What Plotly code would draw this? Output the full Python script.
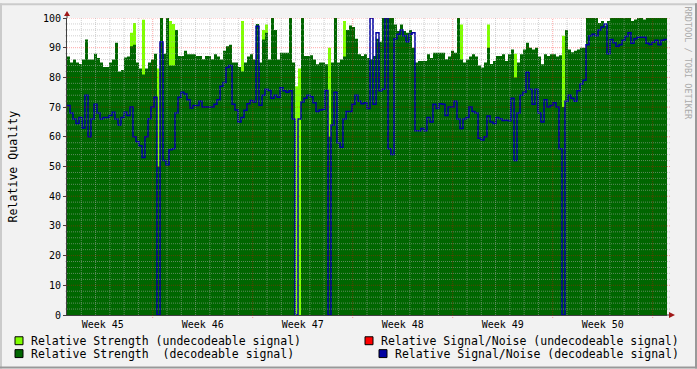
import plotly.graph_objects as go
import pandas as pd

# ---------------- data ----------------
start = pd.Timestamp("2007-11-06 00:00")          # Tuesday of ISO week 45
step = pd.Timedelta(hours=1008 / 200)              # 200 samples over 6 weeks

strength_decodeable = [
    87, 85, 86, 85, 84.5, 86, 92.8, 86, 86, 88,
    86.5, 85, 83.5, 83.5, 85, 86, 91.7, 82, 82.5, 86.7,
    87, 90.5, 91, 85, 83, 81, 83, 85, 86, 88,
    50, 100, 88,
    100, 84, 84, 96, 87.2, 87.2, 89, 87.8, 87.8, 87.8,
    87.2, 87.2, 86.1, 87.2, 87.2, 86.1, 87.8, 87, 86, 89,
    90.5, 91, 85, 85, 83.5, 82, 85, 87, 87.8, 86,
    98, 85, 92.8,
    95, 86, 100, 96, 86, 88.3, 88.3, 88.3, 100, 85,
    0, 0, 100, 87.2, 87.2, 87.5, 86, 84.4, 85, 85,
    84.4, 60, 85, 100, 85, 86, 87, 96, 97.5, 97,
    93, 87.8, 87.2,
    87.8, 86.5, 86.1, 87.2, 93, 92, 100, 100, 100, 100,
    97.8, 95.6, 97.8, 95.6, 95, 96, 90, 85, 85.5, 85.5,
    85.5, 87.8, 86.5, 88.3, 88.3, 88.3, 88.3, 86.1, 87, 89,
    88.3, 100, 86, 85,
    86, 87, 87.8, 87, 84, 83.3, 85, 90, 84.5, 85.5,
    87.2, 87.2, 87.8, 85.5, 87.8, 89.4, 80, 85, 87.8, 89.4,
    91.7, 90, 89.4, 90, 87, 84.4, 87.8, 87.2, 87.8, 87.8,
    87, 87.5, 70,
    96, 89.4, 88.5, 89, 89.4, 90, 90, 100, 100, 100,
    100, 98.3, 99, 97.5, 99, 100, 100, 100, 100, 100,
    100, 100, 99, 99.5, 100, 100, 99.5, 100, 100, 100,
    100, 100, 100, 100,
]

strength_undecodeable = [
    0, 0, 0, 0, 0, 0, 0, 0, 0, 0,
    0, 0, 0, 0, 0, 0, 0, 0, 0, 0,
    0, 95, 98.3, 0, 0, 99.4, 0, 0, 0, 0,
    83, 0, 0,
    0, 99, 98, 0, 0, 0, 0, 0, 0, 0,
    0, 0, 0, 0, 0, 0, 0, 0, 0, 0,
    0, 0, 0, 0, 0, 99, 0, 0, 0, 0,
    0, 0, 96,
    97.8, 0, 0, 0, 0, 0, 0, 0, 0, 0,
    77, 83, 0, 0, 0, 0, 0, 0, 0, 0,
    0, 90, 0, 0, 0, 0, 99, 0, 0, 0,
    0, 0, 0,
    0, 0, 0, 0, 0, 0, 0, 0, 0, 0,
    0, 0, 0, 0, 0, 0, 0, 0, 0, 0,
    0, 0, 0, 0, 0, 0, 0, 0, 0, 0,
    0, 98, 97.8, 0,
    0, 0, 0, 0, 0, 0, 0, 97.8, 0, 0,
    0, 0, 0, 0, 0, 0, 88, 0, 0, 0,
    0, 0, 0, 0, 0, 0, 0, 0, 0, 0,
    0, 0, 94,
    0, 0, 0, 0, 0, 0, 0, 0, 0, 0,
    0, 0, 0, 0, 0, 0, 0, 0, 0, 0,
    0, 0, 0, 0, 0, 0, 0, 0, 0, 0,
    0, 0, 0, 0,
]

snr_decodeable = [
    70.5, 68, 66, 64.5, 66.5, 63, 74, 60, 66, 71,
    68, 66, 66.5, 66.5, 67.2, 68.3, 66, 64, 66.5, 68.3,
    67.2, 70, 60, 58.3, 57, 53, 60, 66.1, 70, 73.3,
    0, 92, 52,
    50.6, 55.6, 56, 68, 73.3, 75, 74.4, 72.5, 69.7, 70.5,
    70.5, 72, 70, 70, 70, 70, 71, 72.5, 77, 78.3,
    83.3, 84, 71, 69, 65, 66.5, 68.9, 71.1, 72.2, 71.7,
    97.2, 70.6, 74,
    76, 75.6, 73, 74, 73.3, 76.5, 75.5, 75, 75.5, 66,
    0, 66, 71.7, 73, 74, 73.5, 71.5, 68.5, 69, 69.2,
    75.6, 0, 64, 75, 58, 56.5, 66, 68.5, 68.5, 71,
    74, 72, 71.1,
    71.5, 69.5, 100, 71, 95, 75.5, 76, 100, 56, 54,
    93, 94.5, 96, 94, 92, 94.5, 95, 62, 62, 62.8,
    62, 66.5, 65, 71, 69.5, 71.1, 71, 67.2, 70, 70,
    72, 66, 62.8, 66,
    66.5, 70, 68.5, 68, 59.5, 58.9, 60, 67, 65, 64.5,
    66.5, 66.1, 65.5, 65.6, 65.4, 73, 52, 68, 74, 75,
    81.7, 76, 71, 76, 68, 65, 72.5, 70, 70.5, 71.5,
    70, 56, 0,
    72, 74, 73, 72, 75.5, 77.8, 79, 91, 94, 94.5,
    94, 96, 97, 98, 88, 92.8, 91.7, 90.5, 91, 92.5,
    93.8, 95, 91.5, 93, 93.5, 93.5, 93.5, 91.5, 91.1, 91.8,
    92.5, 91, 92.5, 92.8,
]

week_labels = ["Week 45", "Week 46", "Week 47", "Week 48", "Week 49", "Week 50"]
legend_labels = [
    "Relative Strength (undecodeable signal)",
    "Relative Signal/Noise (undecodeable signal)",
    "Relative Strength  (decodeable signal)",
    "Relative Signal/Noise (decodeable signal)",
]

# ---------------- styling ----------------
W, H = 697, 369
ML, MR, MT, MB = 67, 30, 15, 54
PW, PH = W - ML - MR, H - MT - MB
FONT = "DejaVu Sans Mono"
C_LIGHT = "#80FF00"
C_DARK = "#006600"
C_RED = "#FF0000"
C_BLUE = "#0000A0"
C_ARROW = "#A01818"


def px(x):
    return (x - ML) / PW


def py(y):
    return (H - MB - y) / PH


n = len(strength_decodeable)
times = [start + i * step for i in range(n + 1)]
end = times[-1]


def ext(v):
    return list(v) + [v[-1]]


fig = go.Figure()
fig.add_trace(go.Scatter(x=times, y=ext(strength_undecodeable), mode="lines",
                         line=dict(width=0, shape="hv", color=C_LIGHT),
                         fill="tozeroy", fillcolor=C_LIGHT, hoverinfo="skip"))
fig.add_trace(go.Scatter(x=times, y=ext(strength_decodeable), mode="lines",
                         line=dict(width=0, shape="hv", color=C_DARK),
                         fill="tozeroy", fillcolor=C_DARK, hoverinfo="skip"))
fig.add_trace(go.Scatter(x=times, y=ext(snr_decodeable), mode="lines",
                         line=dict(width=1.5, shape="hv", color=C_BLUE),
                         hoverinfo="skip"))

shapes = []
# horizontal grid (minor every 2, major every 10), drawn over the data
for v in range(2, 101, 2):
    major = v % 10 == 0
    shapes.append(dict(type="line", xref="paper", yref="y",
                       x0=px(ML - 2), x1=px(ML + PW + 3), y0=v, y1=v,
                       line=dict(color="rgba(255,0,0,0.35)" if major else "rgba(170,170,170,0.55)",
                                 width=1, dash="1px,1px"),
                       layer="above"))
# vertical grid: each day, weeks in red
for d in range(1, 42):
    t = start + pd.Timedelta(days=d)
    major = t.weekday() == 0
    shapes.append(dict(type="line", xref="x", yref="paper",
                       x0=t, x1=t, y0=py(MT + PH + 3) if major else 0, y1=1,
                       line=dict(color="rgba(255,0,0,0.35)" if major else "rgba(170,170,170,0.55)",
                                 width=1, dash="1px,1px"),
                       layer="above"))
# axis extensions and arrows
shapes.append(dict(type="line", xref="paper", yref="paper", x0=px(ML), x1=px(ML),
                   y0=1, y1=py(10), line=dict(color="#404040", width=1), layer="above"))
shapes.append(dict(type="line", xref="paper", yref="paper", x0=1, x1=px(671),
                   y0=0, y1=0, line=dict(color="#404040", width=1), layer="above"))
shapes.append(dict(type="path", xref="paper", yref="paper",
                   path=f"M {px(64)},{py(13)} L {px(70)},{py(13)} L {px(67)},{py(8)} Z",
                   fillcolor=C_ARROW, line=dict(width=0), layer="above"))
shapes.append(dict(type="path", xref="paper", yref="paper",
                   path=f"M {px(669)},{py(312)} L {px(669)},{py(318)} L {px(675)},{py(315)} Z",
                   fillcolor=C_ARROW, line=dict(width=0), layer="above"))
# frame shading
shapes.append(dict(type="line", xref="paper", yref="paper", x0=px(0), x1=px(W),
                   y0=py(1), y1=py(1), line=dict(color="#CBCBCB", width=2)))
shapes.append(dict(type="line", xref="paper", yref="paper", x0=px(1), x1=px(1),
                   y0=py(0), y1=py(H), line=dict(color="#CBCBCB", width=2)))
shapes.append(dict(type="line", xref="paper", yref="paper", x0=px(0), x1=px(W),
                   y0=py(H - 1), y1=py(H - 1), line=dict(color="#999999", width=2)))
shapes.append(dict(type="line", xref="paper", yref="paper", x0=px(W - 1), x1=px(W - 1),
                   y0=py(0), y1=py(H), line=dict(color="#999999", width=2)))

# legend boxes
legend_items = [
    (C_LIGHT, 15, 337, 30, 341.5, legend_labels[0]),
    (C_RED, 365, 337, 380, 341.5, legend_labels[1]),
    (C_DARK, 15, 350, 30, 354.5, legend_labels[2]),
    (C_BLUE, 379, 350, 394, 354.5, legend_labels[3]),
]
annotations = []
for col, bx, by, tx, ty, label in legend_items:
    shapes.append(dict(type="rect", xref="paper", yref="paper",
                       x0=px(bx), x1=px(bx + 8), y0=py(by), y1=py(by + 8),
                       fillcolor=col, line=dict(color="#000000", width=1)))
    annotations.append(dict(xref="paper", yref="paper", x=px(tx - 1), y=py(ty),
                            text=label, showarrow=False, xanchor="left", yanchor="middle",
                            font=dict(family=FONT, size=11.5, color="#000000")))

annotations.append(dict(xref="paper", yref="paper", x=px(12), y=py(165),
                        text="Relative Quality", textangle=-90, showarrow=False,
                        xanchor="center", yanchor="middle",
                        font=dict(family=FONT, size=11.6, color="#000000")))
annotations.append(dict(xref="paper", yref="paper", x=px(688), y=py(60),
                        text="RRDTOOL / TOBI OETIKER", textangle=90, showarrow=False,
                        xanchor="center", yanchor="middle",
                        font=dict(family=FONT, size=8.5, color="#AAAAAA")))

week_centers = [start + pd.Timedelta(days=2.5 + 7 * k) for k in range(len(week_labels))]

fig.update_layout(
    width=W, height=H, margin=dict(l=ML, r=MR, t=MT, b=MB, pad=0),
    paper_bgcolor="#F2F2F2", plot_bgcolor="#FFFFFF",
    showlegend=False, shapes=shapes, annotations=annotations,
    font=dict(family=FONT, size=10, color="#000000"),
    xaxis=dict(type="date", range=[start, end], showgrid=False, zeroline=False,
               showline=True, linecolor="#404040", linewidth=1, layer="above traces",
               tickvals=week_centers, ticktext=week_labels, ticks="",
               tickfont=dict(family=FONT, size=10, color="#000000")),
    yaxis=dict(range=[0, 100], showgrid=False, zeroline=False,
               showline=True, linecolor="#404040", linewidth=1, layer="above traces",
               tickvals=list(range(0, 101, 10)), ticks="outside", ticklen=3,
               tickcolor="#404040",
               tickfont=dict(family=FONT, size=10, color="#000000")),
)

fig.write_html("out.html")
